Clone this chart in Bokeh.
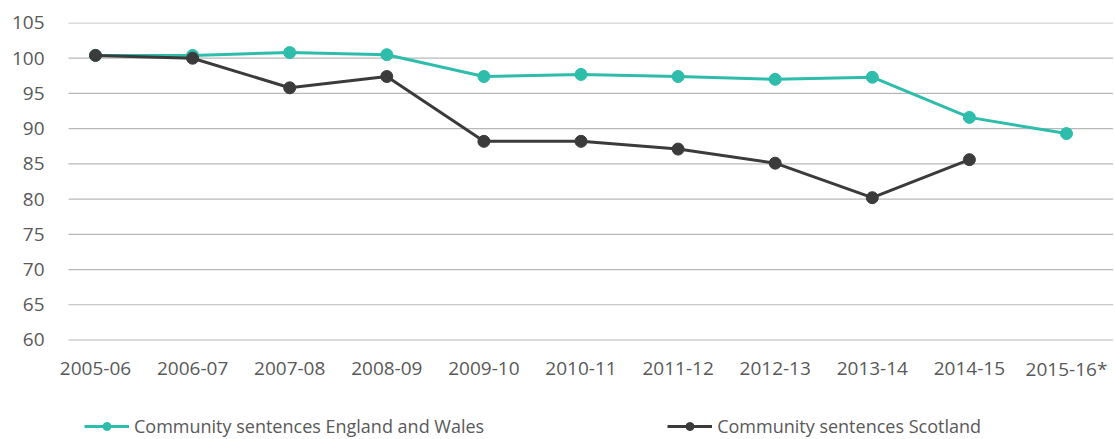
from bokeh.plotting import figure
from bokeh.models import Legend, LegendItem, FixedTicker, Range1d
from bokeh.core.properties import value
from bokeh.embed import file_html
from bokeh.resources import INLINE

years = ["2005-06", "2006-07", "2007-08", "2008-09", "2009-10", "2010-11",
         "2011-12", "2012-13", "2013-14", "2014-15", "2015-16*"]
england_wales = [100.4, 100.4, 100.8, 100.5, 97.4, 97.7, 97.4, 97.0, 97.3, 91.6, 89.3]
scotland = [100.4, 100.0, 95.8, 97.4, 88.2, 88.2, 87.1, 85.1, 80.2, 85.6]
y_ticks = [60, 65, 70, 75, 80, 85, 90, 95, 100, 105]

TEAL = "#2dbdaa"
DARK = "#3b3b3b"
FONT = "Open Sans"
TXT = "#595959"
GRID = "#b8b8b8"

x_ew = list(range(len(england_wales)))
x_sc = list(range(len(scotland)))
x_years = list(range(len(years)))

X_START, X_END = -0.4737, 10.484     # frame (wide enough for the first label)
GRID_START = -0.278                  # where the gridlines begin

# frame runs from the top gridline down to the figure bottom; the x labels sit under 60
p = figure(width=1113, height=438, output_backend="svg", toolbar_location=None,
           x_range=Range1d(X_START, X_END), y_range=Range1d(46.016, 105.07),
           x_axis_location=None,
           min_border_left=49, min_border_right=0, min_border_top=22,
           min_border_bottom=0)
p.outline_line_color = None
p.background_fill_color = "white"
p.border_fill_color = "white"

# horizontal gridlines
p.segment(x0=[GRID_START] * len(y_ticks), y0=y_ticks,
          x1=[X_END] * len(y_ticks), y1=y_ticks,
          line_color=GRID, line_width=1.2)

l1 = p.line(x_ew, england_wales, line_color=TEAL, line_width=3)
c1 = p.scatter(x_ew, england_wales, size=12, fill_color=TEAL, line_color=TEAL)
l2 = p.line(x_sc, scotland, line_color=DARK, line_width=3)
c2 = p.scatter(x_sc, scotland, size=12, fill_color=DARK, line_color=DARK)

# category labels under the baseline
p.text(x=x_years, y=[min(y_ticks)] * len(years), text=years,
       text_font=value(FONT), text_font_size="19px", text_color=TXT,
       text_align="center", text_baseline="middle", y_offset=29)

p.yaxis.ticker = FixedTicker(ticks=y_ticks)
ax = p.yaxis[0]
ax.axis_line_color = None
ax.major_tick_line_color = None
ax.minor_tick_line_color = None
ax.major_tick_out = 0
ax.major_tick_in = 0
ax.major_label_text_font = FONT
ax.major_label_text_font_size = "19px"
ax.major_label_text_color = TXT
ax.major_label_standoff = 5

p.xgrid.grid_line_color = None
p.ygrid.grid_line_color = None

lg = Legend(items=[LegendItem(label="Community sentences England and Wales", renderers=[l1, c1]),
                   LegendItem(label="Community sentences Scotland", renderers=[l2, c2])],
            location=(35, 0), orientation="horizontal",
            glyph_width=45, glyph_height=20, label_standoff=5,
            spacing=183, padding=0, margin=0, border_line_color=None,
            background_fill_alpha=0,
            label_text_font=FONT, label_text_font_size="18px",
            label_text_color=TXT)
p.add_layout(lg, "center")

open("out.html", "w").write(file_html(p, INLINE))
